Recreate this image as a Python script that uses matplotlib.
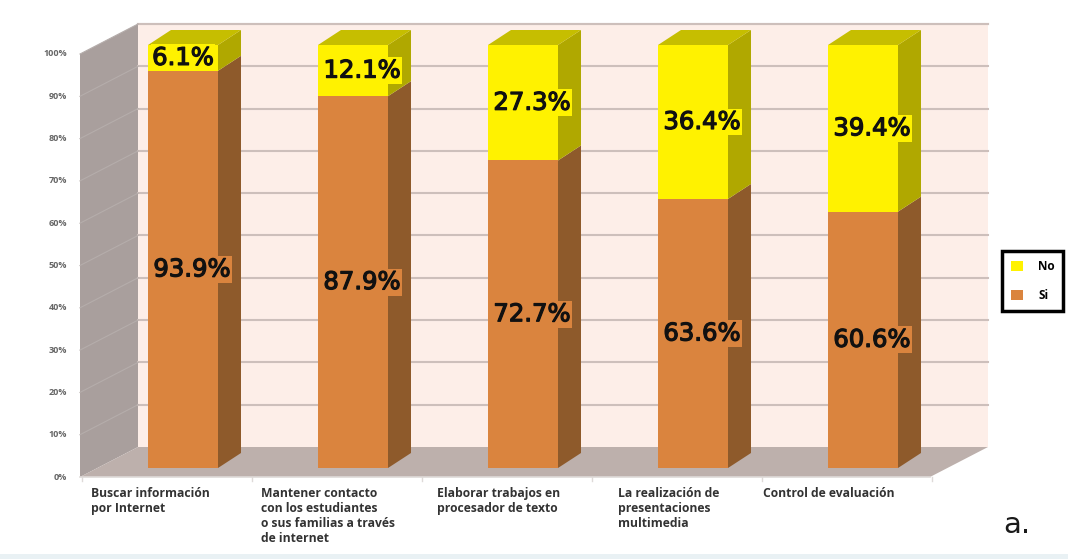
import matplotlib
matplotlib.use('Agg')
import matplotlib.pyplot as plt
import matplotlib.patheffects as pe
from matplotlib.patches import Polygon, Rectangle
import numpy as np

categories = ['Buscar información\npor Internet',
              'Mantener contacto\ncon los estudiantes\no sus familias a través\nde internet',
              'Elaborar trabajos en\nprocesador de texto',
              'La realización de\npresentaciones\nmultimedia',
              'Control de evaluación']
si = [93.9, 87.9, 72.7, 63.6, 60.6]
no = [6.1, 12.1, 27.3, 36.4, 39.4]
yticks = list(range(0, 101, 10))

# layout, worked out from the reference pixels
W, H = 1068, 559
px_x = 170.0          # pixels per category
px_y = 4.23           # pixels per percent
x0_px, y0_px = 183, 468
bar_w = 70 / px_x
dx, dy = 23 / px_x, 15 / px_y           # bar depth
wall_l, wall_r = (80 - x0_px) / px_x, (930 - x0_px) / px_x
wall_dx, wall_dy = 58 / px_x, 30 / px_y  # wall depth
wall_y0 = (y0_px - 477) / px_y

ORANGE, ORANGE_SIDE = '#DA843E', '#8E5A2B'
YELLOW, YELLOW_SIDE, YELLOW_TOP = '#FFF200', '#B0A800', '#C6BE00'
LABEL_FONT = 'Open Sans'

fig = plt.figure(figsize=(W / 100, H / 100), dpi=100)
ax = fig.add_axes([0, 0, 1, 1])
ax.set_xlim(-x0_px / px_x, (W - x0_px) / px_x)
ax.set_ylim((y0_px - H) / px_y, y0_px / px_y)
ax.axis('off')

# walls and floor
ax.add_patch(Rectangle((wall_l + wall_dx, wall_y0 + wall_dy), wall_r - wall_l, 100,
                       fc='#FDEEE8', ec='none', zorder=1))
ax.add_patch(Polygon([(wall_l, wall_y0), (wall_l + wall_dx, wall_y0 + wall_dy),
                      (wall_l + wall_dx, wall_y0 + wall_dy + 100), (wall_l, wall_y0 + 100)],
                     fc='#A99F9D', ec='none', zorder=1))
ax.add_patch(Polygon([(wall_l, wall_y0), (wall_r, wall_y0),
                      (wall_r + wall_dx, wall_y0 + wall_dy), (wall_l + wall_dx, wall_y0 + wall_dy)],
                     fc='#BDB0AC', ec='none', zorder=1))
ax.plot([wall_l + wall_dx, wall_r + wall_dx], [wall_y0 + wall_dy + 100] * 2,
        color='#D2CDCB', lw=1.5, zorder=2)
ax.plot([wall_l, wall_r], [wall_y0, wall_y0], color='#DEDAD8', lw=1.2, zorder=2)

for t in yticks:
    yb = wall_y0 + wall_dy + t
    if t > 0:
        ax.plot([wall_l + wall_dx, wall_r + wall_dx], [yb, yb], color='#CDBFBB', lw=1.5, zorder=2)
        ax.plot([wall_l, wall_l + wall_dx], [wall_y0 + t, yb], color='#B5ADAB', lw=0.8, zorder=2)
    ax.text(wall_l - 13 / px_x, wall_y0 + t, f'{t}%', ha='right', va='center',
            fontsize=6.5, fontweight='bold', color='#666666', family=LABEL_FONT)

# bars
x = np.arange(len(categories))
ax.bar(x, si, bar_w, color=ORANGE, zorder=4, label='Si')
ax.bar(x, no, bar_w, bottom=si, color=YELLOW, zorder=4, label='No')
for i in x:
    r = i + bar_w / 2
    s, n = si[i], no[i]
    ax.add_patch(Polygon([(r, 0), (r + dx, dy), (r + dx, s + dy), (r, s)],
                         fc=ORANGE_SIDE, ec='none', zorder=3))
    ax.add_patch(Polygon([(r, s), (r + dx, s + dy), (r + dx, s + n + dy), (r, s + n)],
                         fc=YELLOW_SIDE, ec='none', zorder=3))
    ax.add_patch(Polygon([(r - bar_w, s + n), (r, s + n), (r + dx, s + n + dy), (r - bar_w + dx, s + n + dy)],
                         fc=YELLOW_TOP, ec='none', zorder=3))

# data labels sit a little right of the bar centre
lab_shift = 9 / px_x
stroke = [pe.withStroke(linewidth=0.9, foreground='#111111')]
for i in x:
    ax.text(i + lab_shift, si[i] / 2, f'{si[i]:.1f}%', ha='center', va='center', fontsize=17.5,
            color='#111111', zorder=6, path_effects=stroke,
            bbox=dict(fc=ORANGE, ec='none', pad=1))
    shift = 0 if i == 0 else lab_shift
    ax.text(i + shift, si[i] + no[i] / 2, f'{no[i]:.1f}%', ha='center', va='center', fontsize=17.5,
            color='#111111', zorder=6, path_effects=stroke,
            bbox=dict(fc=YELLOW, ec='none', pad=1))

# category labels
label_x = [91, 261, 437, 618, 763]
for lx, c in zip(label_x, categories):
    ax.text((lx - x0_px) / px_x, (y0_px - 487) / px_y, c, ha='left', va='top', fontsize=8.7,
            fontweight='bold', color='#333333', family=LABEL_FONT, linespacing=1.2)
for i in range(6):
    ax.plot([(82 + i * 170 - x0_px) / px_x] * 2, [wall_y0, wall_y0 - 4 / px_y],
            color='#DEDAD8', lw=1)

# picture frame strips
ax.add_patch(Rectangle((-x0_px / px_x, (y0_px - H) / px_y), W / px_x, 5 / px_y,
                       fc='#E9F1F4', ec='none', zorder=1))
ax.text((1003 - x0_px) / px_x, (y0_px - 525) / px_y, 'a.', fontsize=21, ha='left', va='center',
        color='#1A1A1A')

handles, labels = ax.get_legend_handles_labels()
leg = ax.legend(handles[::-1], labels[::-1], loc='center left',
                bbox_to_anchor=(1002 / W, 1 - 281 / H), frameon=True, fancybox=False,
                edgecolor='black', framealpha=1, borderaxespad=0, handlelength=1,
                handleheight=1, handletextpad=1.3, labelspacing=1.35, borderpad=0.75,
                prop={'family': LABEL_FONT, 'weight': 'bold', 'size': 8.5})
leg.get_frame().set_linewidth(2.5)
leg.set_zorder(7)

plt.savefig('out.png', dpi=100)
